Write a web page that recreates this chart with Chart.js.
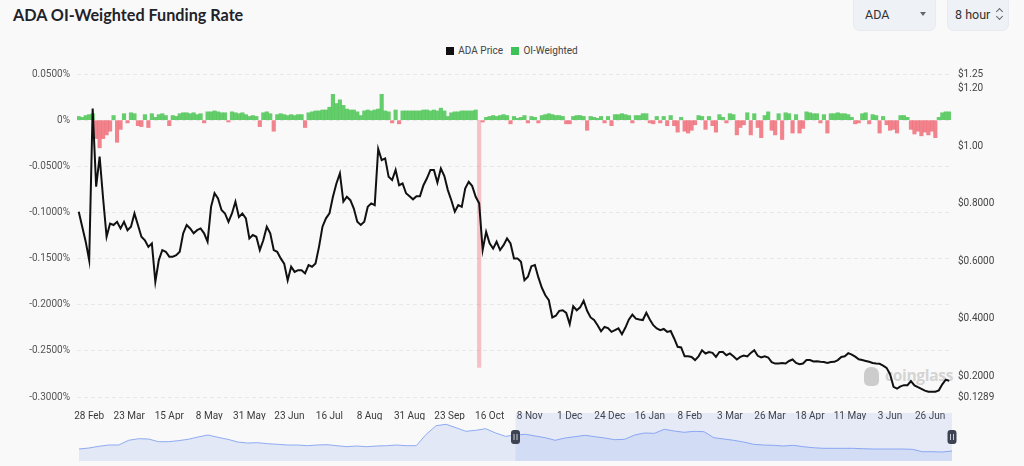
<!DOCTYPE html>
<html>
<head>
<meta charset="utf-8">
<script src="https://cdn.jsdelivr.net/npm/chart.js@4.4.1/dist/chart.umd.min.js"></script>
<style>
  html, body { margin: 0; padding: 0; }
  body { width: 1024px; height: 466px; overflow: hidden; background: #f9f9f9; position: relative; font-family: Roboto, sans-serif; }
  .title { position: absolute; left: 13px; top: 5px; font: 700 16.2px Lato, sans-serif; color: #1f2329; }
  .select { position: absolute; top: -4px; height: 34px; background: #eef1f5; border-radius: 6px; box-shadow: 0 0 0 1px #e7eaef; box-sizing: border-box; font: 12.5px Roboto, sans-serif; color: #333; padding-top: 11px; }
  .sel-ada { left: 854px; width: 81px; padding-left: 11px; }
  .sel-ada .caret { position: absolute; left: 66px; top: 16px; width: 0; height: 0; border-left: 3.5px solid transparent; border-right: 3.5px solid transparent; border-top: 4px solid #666; }
  .sel-hour { left: 948px; width: 60px; padding-left: 7px; }
  .sel-hour .arr { position: absolute; left: 49px; top: 12px; width: 6px; height: 12px; }
  .sel-hour .arr i { position: absolute; left: 0; width: 4px; height: 4px; border-left: 1.2px solid #666; border-top: 1.2px solid #666; }
  .sel-hour .arr i.up { top: 1px; transform: rotate(45deg); }
  .sel-hour .arr i.dn { top: 6px; transform: rotate(225deg); }
  .legend { position: absolute; left: 0; top: 44px; width: 1024px; text-align: center; font: 10px Roboto, sans-serif; color: #444; }
  .legend span { display: inline-block; vertical-align: middle; }
  .legend .box { width: 8px; height: 8px; margin-right: 4px; }
  .legend .item { margin: 0 3px; }
  .mark { position: absolute; left: 864px; top: 364px; color: #d4d4d4; font: 700 15.5px 'Open Sans', sans-serif; letter-spacing: -0.3px; }
  .mark .logo { display: inline-block; width: 15px; height: 19px; background: #cccccc; border-radius: 7px 7px 5px 5px; vertical-align: -5px; margin-right: 6px; }
  #mainWrap { position: absolute; left: 0; top: 0; width: 1024px; height: 420px; }
  #navWrap { position: absolute; left: 0; top: 413px; width: 1024px; height: 48px; }
</style>
</head>
<body>
<div class="title">ADA OI-Weighted Funding Rate</div>
<div class="select sel-ada">ADA<span class="caret"></span></div>
<div class="select sel-hour">8 hour<span class="arr"><i class="up"></i><i class="dn"></i></span></div>
<div class="legend">
  <span class="item"><span class="box" style="background:#111"></span><span>ADA Price</span></span>
  <span class="item"><span class="box" style="background:#3cc257"></span><span>OI-Weighted</span></span>
</div>
<div class="mark"><span class="logo"></span>coinglass</div>
<div id="mainWrap"><canvas id="main"></canvas></div>
<div id="navWrap"><canvas id="nav"></canvas></div>

<script>
// x axis: days counted from 28 Feb, one value every 2 days
const FIRST_DAY = -6;
const STEP = 2;

const tickLabels = ['28 Feb', '23 Mar', '15 Apr', '8 May', '31 May', '23 Jun', '16 Jul', '8 Aug', '31 Aug',
  '23 Sep', '16 Oct', '8 Nov', '1 Dec', '24 Dec', '16 Jan', '8 Feb', '3 Mar', '26 Mar', '18 Apr',
  '11 May', '3 Jun', '26 Jun'];
const TICK_EVERY = 23;

const rateTicks = [0.05, 0, -0.05, -0.1, -0.15, -0.2, -0.25, -0.3];
const priceTicks = [0.1289, 0.2, 0.4, 0.6, 0.8, 1.0, 1.2, 1.25];

// ADA price, USD
const adaPrice = [
  0.772, 0.720, 0.668, 0.604, 1.130, 0.859, 0.963, 0.818, 0.685, 0.731,
  0.726, 0.737, 0.714, 0.737, 0.708, 0.720, 0.766, 0.726, 0.685, 0.673,
  0.650, 0.662, 0.529, 0.604, 0.639, 0.633, 0.616, 0.616, 0.621, 0.633,
  0.697, 0.726, 0.714, 0.697, 0.708, 0.714, 0.697, 0.668, 0.789, 0.836,
  0.818, 0.778, 0.766, 0.737, 0.766, 0.807, 0.754, 0.766, 0.749, 0.679,
  0.691, 0.685, 0.639, 0.673, 0.720, 0.697, 0.639, 0.633, 0.610, 0.592,
  0.534, 0.581, 0.563,
  0.569, 0.569, 0.558, 0.587, 0.581, 0.592, 0.650, 0.720, 0.749, 0.766,
  0.824, 0.870, 0.905, 0.807, 0.824, 0.812, 0.783, 0.737, 0.726, 0.737,
  0.789, 0.801, 0.795, 0.990, 0.951, 0.957, 0.893, 0.882, 0.917, 0.864,
  0.870, 0.836, 0.826, 0.815, 0.826, 0.826, 0.864, 0.888, 0.917, 0.917,
  0.873, 0.922, 0.896, 0.847, 0.812, 0.772, 0.795, 0.789, 0.853, 0.876,
  0.861, 0.824, 0.801, 0.639, 0.702, 0.662, 0.644, 0.668, 0.639, 0.656,
  0.679, 0.662, 0.610,
  0.610, 0.598, 0.534, 0.546, 0.583, 0.587, 0.544, 0.508, 0.482, 0.465,
  0.405, 0.411, 0.428, 0.430, 0.421, 0.382, 0.444, 0.430, 0.440, 0.463,
  0.428, 0.405, 0.396, 0.378, 0.357, 0.372, 0.368, 0.355, 0.361, 0.367,
  0.347, 0.370, 0.398, 0.415, 0.401, 0.398, 0.396, 0.421, 0.398, 0.378,
  0.367, 0.361, 0.365, 0.355, 0.358, 0.332, 0.303, 0.301, 0.270, 0.270,
  0.268, 0.257, 0.270, 0.291, 0.280, 0.285, 0.282, 0.268, 0.285, 0.285,
  0.274, 0.280, 0.270,
  0.259, 0.268, 0.273, 0.270, 0.282, 0.291, 0.272, 0.266, 0.270, 0.266,
  0.250, 0.245, 0.245, 0.247, 0.245, 0.254, 0.259, 0.247, 0.243, 0.245,
  0.257, 0.257, 0.252, 0.253, 0.251, 0.250, 0.247, 0.250, 0.251, 0.257,
  0.268, 0.270, 0.281, 0.276, 0.269, 0.260, 0.257, 0.254, 0.251, 0.247,
  0.245, 0.244, 0.238, 0.230, 0.208, 0.164, 0.158, 0.166, 0.170, 0.170,
  0.184, 0.169, 0.163, 0.157, 0.151, 0.147, 0.147, 0.147, 0.152, 0.173,
  0.189, 0.185
];

// OI-weighted funding rate, percent
const oiWeighted = [
  0.004, 0.003, 0.005, 0.006, 0.007,
  -0.020, -0.030, -0.020, -0.016, -0.012, 0.005, -0.024, -0.010, 0.007, -0.003,
  0.008, 0.007, -0.006, -0.007, 0.006, -0.008, 0.007, 0.003, 0.006, 0.007,
  0.005, -0.006, 0.005, 0.004, 0.007, 0.008, 0.008, 0.007, 0.008, 0.006,
  0.007, -0.003, 0.009, 0.009, 0.010, 0.009, 0.008, 0.008, -0.002, 0.009,
  0.008, 0.007, 0.008, 0.006, 0.004, 0.005, 0.004, -0.007, 0.008, 0.009,
  0.007, -0.012, 0.006, 0.007, 0.006, 0.005, 0.006, 0.005,
  0.006, 0.006, -0.008, 0.008, 0.009, 0.010, 0.010, 0.011, 0.011, 0.014,
  0.028, 0.018, 0.022, 0.016, 0.012, 0.011, 0.011, 0.009, 0.005, 0.010,
  0.011, 0.010, 0.011, 0.012, 0.028, 0.010, 0.009, -0.003, 0.011, -0.004,
  0.010, 0.010, 0.010, 0.010, 0.010, 0.010, 0.011, 0.011, 0.010, 0.011,
  0.010, 0.013, 0.010, 0.004, 0.008, 0.009, 0.009, 0.010, 0.010, 0.010,
  0.010, 0.011, -0.268, -0.002, 0.003, 0.004, 0.005, 0.004, 0.005, 0.006,
  0.005, -0.004, 0.004,
  0.002, 0.003, 0.005, -0.003, 0.004, 0.003, -0.003, 0.005, 0.006, 0.007,
  0.006, 0.005, 0.005, 0.004, -0.004, -0.004, 0.004, 0.005, 0.005, 0.004,
  -0.011, 0.004, 0.003, 0.002, 0.004, -0.003, 0.004, -0.006, 0.006, 0.006,
  0.007, 0.006, 0.005, -0.003, 0.005, 0.005, 0.007, 0.007, -0.003, -0.004,
  0.004, -0.003, 0.004, -0.006, 0.005, -0.006, -0.013, 0.003, -0.012, -0.014,
  -0.011, -0.005, 0.005, 0.004, -0.010, 0.004, -0.006, -0.013, 0.006, 0.003,
  -0.003, 0.007, 0.006,
  -0.016, -0.008, -0.005, 0.008, -0.016, 0.007, -0.008, -0.019, 0.005, 0.009,
  -0.011, -0.016, 0.007, -0.021, 0.008, 0.007, -0.014, 0.006, -0.014, -0.009,
  0.009, 0.008, 0.007, 0.007, -0.003, 0.006, -0.014, 0.007, 0.007, 0.008,
  0.007, 0.007, 0.006, 0.003, -0.004, -0.003, 0.007, 0.008, -0.004, 0.006,
  0.005, -0.014, 0.004, -0.005, -0.011, -0.010, -0.014, 0.005, 0.005, 0.003,
  -0.010, -0.015, -0.012, -0.017, -0.013, -0.016, -0.012, -0.019, 0.003, 0.008,
  0.009, 0.009
];

// overview series in the range slider (relative scale 0-48)
const navSeries = [
  12.0, 13.0, 14.7, 16.0, 16.0, 20.7, 22.3, 22.0, 19.3, 19.3,
  20.3, 21.7, 24.0, 26.0, 23.7, 21.7, 19.0, 18.0, 18.3, 17.3,
  16.7, 16.0, 16.0, 15.3, 16.0, 16.3, 15.3, 14.3, 15.0, 14.3,
  15.0, 15.3, 16.0, 15.3, 15.3, 26.7, 35.3, 36.7, 33.3, 29.7,
  30.7, 32.3, 28.0, 24.7, 26.0,
  26.7, 25.0, 23.3, 20.7, 23.0, 24.3, 25.7, 24.3, 23.0, 21.3,
  21.7, 26.0, 28.0, 27.7, 31.7, 30.0, 28.7, 29.7, 29.3, 23.3,
  22.0, 20.7, 19.0, 16.7, 16.0, 15.7, 15.0, 15.7, 14.3, 13.3,
  12.7, 12.7, 12.7, 12.7, 12.3, 12.0, 12.0, 12.0, 12.0, 11.7,
  9.3, 9.3, 9.0, 10.0
];
const navWindow = [44, 88];

const GREEN = 'rgba(84, 200, 92, 0.9)';
const RED = 'rgba(240, 110, 122, 0.85)';
const RED_SPIKE = 'rgba(240, 110, 122, 0.4)';

Chart.defaults.font.family = 'Roboto, sans-serif';
Chart.defaults.font.size = 10;
Chart.defaults.animation = false;

const days = adaPrice.map((_, i) => FIRST_DAY + i * STEP);
const tickDays = tickLabels.map((_, i) => i * TICK_EVERY);

const fmtRate = v => (Math.abs(v) < 1e-9 ? '0' : v.toFixed(4)) + '%';
const fmtPrice = v => '$' + (v >= 1 ? v.toFixed(2) : v.toFixed(4));
const barColor = v => v >= 0 ? GREEN : (v < -0.1 ? RED_SPIKE : RED);

new Chart(document.getElementById('main'), {
  type: 'bar',
  data: {
    labels: days,
    datasets: [
      {
        type: 'line',
        label: 'ADA Price',
        data: adaPrice,
        yAxisID: 'price',
        borderColor: '#111111',
        borderWidth: 2,
        pointRadius: 0,
        tension: 0,
        order: 0
      },
      {
        type: 'bar',
        label: 'OI-Weighted',
        data: oiWeighted,
        yAxisID: 'rate',
        backgroundColor: oiWeighted.map(barColor),
        barPercentage: 1,
        categoryPercentage: 1,
        order: 1
      }
    ]
  },
  options: {
    responsive: true,
    maintainAspectRatio: false,
    layout: { padding: { top: 74, left: 0, right: 0, bottom: 0 } },
    scales: {
      x: {
        type: 'linear',
        min: FIRST_DAY - STEP / 2,
        max: days[days.length - 1] + STEP / 2,
        offset: false,
        grid: { display: false },
        border: { display: false },
        afterBuildTicks: s => { s.ticks = tickDays.map(v => ({ value: v })); },
        afterFit: s => { s.height = 23; },
        ticks: {
          autoSkip: false,
          maxRotation: 0,
          padding: 5,
          color: '#3a3a3a',
          callback: (v, i) => tickLabels[i]
        }
      },
      rate: {
        type: 'linear',
        position: 'left',
        min: -0.3,
        max: 0.05,
        afterBuildTicks: s => { s.ticks = rateTicks.map(v => ({ value: v })); },
        afterFit: s => { s.width = 77; },
        grid: { color: '#e8e8e8', drawTicks: false, lineWidth: 1 },
        border: { display: false, dash: [4, 3] },
        ticks: { padding: 7, color: '#555', callback: v => fmtRate(v) }
      },
      price: {
        type: 'linear',
        position: 'right',
        min: 0.1289,
        max: 1.25,
        afterBuildTicks: s => { s.ticks = priceTicks.map(v => ({ value: v })); },
        afterFit: s => { s.width = 73; },
        grid: { display: false, drawTicks: false },
        border: { display: false },
        ticks: { padding: 7, color: '#444', callback: v => fmtPrice(v) }
      }
    },
    plugins: {
      legend: { display: false },
      tooltip: { enabled: false }
    }
  }
});

const navHandles = {
  id: 'navHandles',
  afterDraw(chart) {
    const { ctx, chartArea, scales } = chart;
    const x1 = scales.x.getPixelForValue(navWindow[0]);
    const x2 = scales.x.getPixelForValue(navWindow[1]);
    ctx.save();
    ctx.fillStyle = 'rgba(110, 140, 240, 0.13)';
    ctx.fillRect(x1, chartArea.top, x2 - x1, chartArea.bottom - chartArea.top);
    const midY = (chartArea.top + chartArea.bottom) / 2;
    [x1, x2].forEach(x => {
      ctx.fillStyle = '#3d4350';
      ctx.beginPath();
      ctx.roundRect(x - 4.5, midY - 7, 9, 14, 3);
      ctx.fill();
      ctx.strokeStyle = '#c8ccd6';
      ctx.lineWidth = 1;
      ctx.beginPath();
      ctx.moveTo(x - 1.5, midY - 3); ctx.lineTo(x - 1.5, midY + 3);
      ctx.moveTo(x + 1.5, midY - 3); ctx.lineTo(x + 1.5, midY + 3);
      ctx.stroke();
    });
    ctx.restore();
  }
};

new Chart(document.getElementById('nav'), {
  type: 'line',
  data: {
    labels: navSeries.map((_, i) => i),
    datasets: [{
      data: navSeries,
      borderColor: '#8eaaf3',
      borderWidth: 1,
      backgroundColor: '#e3e8f6',
      fill: 'start',
      pointRadius: 0,
      tension: 0
    }]
  },
  options: {
    responsive: true,
    maintainAspectRatio: false,
    layout: { padding: { left: 79, right: 72, top: 0, bottom: 0 } },
    scales: {
      x: { type: 'linear', display: false, min: 0, max: navSeries.length - 1 },
      y: { display: false, min: 0, max: 48 }
    },
    plugins: { legend: { display: false }, tooltip: { enabled: false } }
  },
  plugins: [navHandles]
});
</script>
</body>
</html>
